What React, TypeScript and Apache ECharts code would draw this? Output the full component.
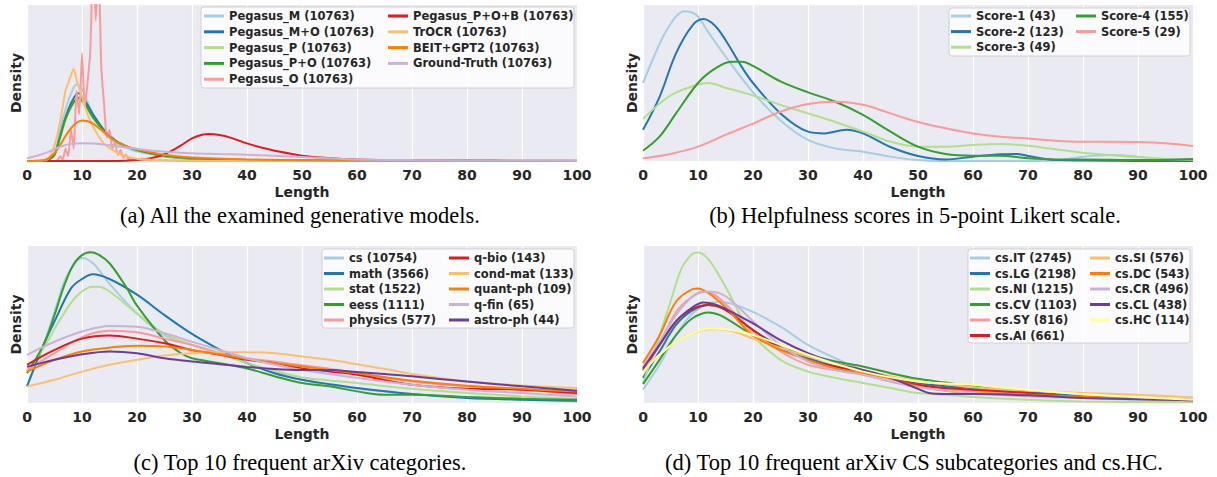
import React, { useEffect, useRef } from "react";
import * as echarts from "echarts";

type Pt = [number, number];

const palette = ["#a6cee3", "#1f78b4", "#b2df8a", "#33a02c", "#fb9a99", "#e31a1c", "#fdbf6f", "#ff7f00", "#cab2d6", "#6a3d9a", "#ffff99"];

// ---------- Panel (a) ----------
const namesA = ["Pegasus_M (10763)", "Pegasus_M+O (10763)", "Pegasus_P (10763)", "Pegasus_P+O (10763)", "Pegasus_O (10763)", "Pegasus_P+O+B (10763)", "TrOCR (10763)", "BEIT+GPT2 (10763)", "Ground-Truth (10763)"];
const pegasusM: Pt[] = [[0,0],[3,0.2],[4,1],[5,4],[6,20],[7,33],[8,43],[9,49],[10,46],[11,38],[12,30],[14,18],[16,12],[18,8.5],[20,6],[25,3],[30,1.5],[40,0.5],[50,0.2],[60,0],[100,0]];
const pegasusMO: Pt[] = [[0,0],[3,0.2],[4,1],[5,4],[6,16],[7,28],[8,37],[9,43],[9.5,43.5],[10,41],[11,36],[12,30],[14,20],[16,13.5],[18,9.5],[20,7],[25,3],[30,1.5],[40,0.5],[50,0.2],[100,0]];
const pegasusP: Pt[] = [[0,0],[3,0.2],[4,1],[5,4],[6,15],[7,26],[8,34],[9,39],[9.5,39.5],[10,38],[11,33],[12,27.5],[14,19],[16,13],[18,9.5],[20,7],[25,3.2],[30,1.8],[40,0.7],[50,0.3],[100,0]];
const pegasusPO: Pt[] = [[0,0],[3,0.2],[4,1],[5,4],[6,15],[7,27],[8,35],[9,40],[9.5,40.5],[10,39],[11,34],[12,28],[14,19.5],[16,13],[18,9.5],[20,7],[25,3.3],[30,1.8],[40,0.7],[50,0.3],[100,0]];
const pegasusO: Pt[] = [[0,0],[5,0],[5.5,0.5],[6,3],[6.5,1],[7,8],[7.5,3],[8,20],[8.5,8],[9,45],[9.5,30],[10,69],[10.5,35],[11,50],[11.5,70],[12,130],[12.5,90],[13,130],[13.5,60],[14,37],[14.5,15],[15,20],[15.5,8],[16,12],[16.5,4],[17,7],[17.5,2],[18,4],[18.5,1],[19,2],[20,1],[21,1.5],[22,0.5],[25,0.3],[30,0],[100,0]];
const pegasusPOB: Pt[] = [[0,0],[15,0],[18,0.2],[20,0.6],[22,1.5],[24,3],[26,6],[28,10],[30,14.5],[32,17],[33,17.3],[35,16.7],[37,15],[40,11.3],[43,8.3],[45,6.6],[50,3.4],[55,1.8],[60,1],[70,0.5],[80,0.3],[90,0.2],[100,0.1]];
const trocr: Pt[] = [[0,0],[3,0.3],[4,2],[5,10],[6,25],[7,45],[7.5,50],[8,55],[8.5,59],[9,52],[10,41],[11,30],[12,22],[13,16],[14,11],[16,6],[18,3],[20,1.5],[25,0.5],[30,0.2],[40,0],[100,0]];
const beitGpt2: Pt[] = [[0,0],[3,0.5],[4,2],[5,5],[6,10],[7,16],[8,21],[9,24.5],[10,26],[11,25.5],[12,24],[14,18.5],[16,13],[18,9.5],[20,7.5],[25,4],[30,2.3],[40,1],[50,0.5],[60,0.2],[100,0]];
const groundTruth: Pt[] = [[0,1.7],[2,3.5],[4,6],[6,9],[8,11],[10,11.3],[12,11.2],[14,10.5],[16,9.6],[20,7.8],[25,6],[30,5],[35,4.5],[40,4],[45,3.3],[50,2.5],[55,1.7],[60,1],[70,0.6],[80,0.4],[90,0.3],[100,0.2]];
const dataA = [pegasusM, pegasusMO, pegasusP, pegasusPO, pegasusO, pegasusPOB, trocr, beitGpt2, groundTruth];

// ---------- Panel (b) ----------
const namesB = ["Score-1 (43)", "Score-2 (123)", "Score-3 (49)", "Score-4 (155)", "Score-5 (29)"];
const score1: Pt[] = [[0,50],[2,67],[4,82],[6,92.5],[7.5,96],[9,95],[10,92.5],[12,82],[15,67],[20,44],[25,26],[30,13.5],[35,8],[40,6],[45,2.8],[50,0.6],[55,0],[60,0],[70,0],[75,0.3],[80,2.8],[85,3.8],[90,2.8],[95,1],[100,0.3]];
const score2: Pt[] = [[0,20],[3,41],[6,69],[9,87],[11,91],[13,87],[15,77.6],[18,60],[20,50],[25,30.5],[30,18.8],[33,17.7],[37,20],[40,17.7],[45,9],[50,3.2],[55,1],[60,2.8],[65,4.3],[68,4.5],[70,3.2],[75,0.6],[80,0.3],[90,0],[100,0]];
const score3: Pt[] = [[0,27],[5,42],[10,49],[12,50],[15,47],[20,42],[25,36],[30,30.5],[35,25],[40,18.8],[45,12.4],[50,9.2],[55,9.2],[60,10.3],[65,10.9],[70,9.8],[75,7.5],[80,5.3],[85,3.8],[90,2.4],[95,1.3],[100,0.8]];
const score4: Pt[] = [[0,6.6],[3,15.6],[6,30.5],[10,50],[13,59],[16,63.7],[18,63.7],[20,61],[25,51],[30,44],[35,38],[40,29.5],[45,18.8],[50,9.2],[55,4.5],[60,3.4],[65,3.4],[70,1.7],[75,1],[80,1],[90,0.6],[100,1.3]];
const score5: Pt[] = [[0,1.7],[5,4.5],[10,9.2],[15,16.7],[20,24],[25,31.6],[30,36.5],[35,38],[40,36],[45,30.5],[50,25],[55,21],[60,17.7],[65,15.6],[70,14.5],[75,13],[80,12.4],[85,12.4],[90,12.2],[95,11.3],[100,9.6]];
const dataB = [score1, score2, score3, score4, score5];

// ---------- Panel (c) ----------
const namesC = ["cs (10754)", "math (3566)", "stat (1522)", "eess (1111)", "physics (577)", "q-bio (143)", "cond-mat (133)", "quant-ph (109)", "q-fin (65)", "astro-ph (44)"];
const cs: Pt[] = [[0,10.6],[3,37],[5,58],[7,79],[9,90],[10,92.4],[12,89],[15,76],[20,57],[25,43],[30,37],[35,31.7],[40,25.4],[45,20],[50,14.8],[55,11.6],[60,9],[65,7.4],[70,5.7],[80,3.8],[90,2.5],[100,1]];
const math: Pt[] = [[0,10.6],[3,37],[5,52],[8,73],[10,79],[12,82],[15,79],[20,69],[25,56],[30,44],[35,34],[40,25.4],[45,19],[50,14.8],[55,12],[60,9.5],[70,5.7],[80,3.2],[90,2.1],[100,1.5]];
const stat: Pt[] = [[0,20],[3,35],[6,53],[9,68],[12,74],[13,74],[15,71],[20,57],[25,44],[30,37],[35,31.7],[40,25.4],[45,20.5],[50,16.3],[55,14.4],[60,12.7],[70,9],[80,6.3],[90,4.2],[100,2.5]];
const eess: Pt[] = [[0,19],[3,37],[5,56],[7,77],[9,91],[11.5,96],[13,94.5],[15,89],[18,74],[20,62],[25,40],[28,31.7],[30,28.5],[35,25.4],[40,22],[45,17],[50,12.7],[55,10.6],[60,7.4],[65,5.3],[70,5.3],[80,3.8],[90,2.7],[100,2.1]];
const physics: Pt[] = [[0,21],[5,31.7],[10,42],[15,46],[20,45],[25,41],[30,37],[35,31.7],[40,28.5],[45,26.4],[50,24],[55,21.8],[60,19],[70,13.7],[80,10.6],[90,8.5],[100,5.7]];
const qbio: Pt[] = [[0,24.3],[5,33.8],[10,41],[15,43],[20,41],[25,38],[30,33.8],[35,30.7],[40,27.5],[45,25.4],[50,22],[55,20],[60,18],[70,11.6],[80,9],[90,8.5],[100,6.3]];
const condmat: Pt[] = [[0,10.6],[5,14.8],[10,20],[15,24.3],[20,27.5],[25,30.2],[30,31.7],[35,32.3],[40,32.3],[45,31.7],[50,29.6],[55,27.5],[60,24.7],[65,21.8],[70,18.4],[80,13.7],[90,11.2],[100,9.5]];
const quantph: Pt[] = [[0,20],[5,27.5],[10,32.8],[15,35.3],[20,36.4],[25,36],[30,33.8],[35,31],[40,28],[45,25.4],[50,23.3],[55,21],[60,19],[70,14.2],[80,11],[90,9],[100,7.4]];
const qfin: Pt[] = [[0,30.7],[5,39],[10,45.5],[15,49],[20,48.6],[25,44.4],[30,39],[35,33.8],[40,28.5],[45,24.3],[50,21],[60,16],[70,11.6],[80,8.5],[90,6.3],[100,4.2]];
const astroph: Pt[] = [[0,23],[5,27.5],[10,31],[15,32.8],[20,31.7],[25,28.5],[30,26.4],[35,24.7],[40,23],[45,21.6],[50,21],[55,21],[60,19.7],[65,18.4],[70,17],[80,13.7],[90,10.6],[100,7.8]];
const dataC = [cs, math, stat, eess, physics, qbio, condmat, quantph, qfin, astroph];

// ---------- Panel (d) ----------
const namesD = ["cs.IT (2745)", "cs.LG (2198)", "cs.NI (1215)", "cs.CV (1103)", "cs.SY (816)", "cs.AI (661)", "cs.SI (576)", "cs.DC (543)", "cs.CR (496)", "cs.CL (438)", "cs.HC (114)"];
const csIT: Pt[] = [[0,8.5],[3,24.3],[6,43.3],[9,57],[12,63.4],[14,64.5],[16,63.4],[20,58],[25,48.6],[30,37],[35,28.5],[40,21],[45,17],[50,12.7],[55,10.6],[60,8.5],[70,5.3],[80,3.2],[90,2],[100,1]];
const csLG: Pt[] = [[0,16],[3,32.8],[6,49.7],[9,59],[12,62.4],[14,61.3],[16,57],[20,46.5],[25,36],[30,28.5],[35,23.3],[40,20],[45,16],[50,12.7],[55,10.6],[60,9.5],[70,7],[80,4.2],[90,2.7],[100,1.7]];
const csNI: Pt[] = [[0,12.7],[3,43],[5,64.5],[7,85.6],[9,95],[10,95.8],[12,91],[15,74],[18,54],[20,43],[25,27.5],[30,20],[35,16],[40,12.7],[45,9.5],[50,6.3],[55,5.3],[60,3.8],[70,2.1],[80,1],[100,0.4]];
const csCV: Pt[] = [[0,12],[3,27.5],[6,43.3],[9,54],[12,57.7],[14,56],[16,52],[20,43.3],[25,36],[30,30.7],[35,26.4],[40,23.3],[45,19],[50,15.4],[55,13],[60,10.6],[70,6.3],[80,3.8],[90,3.2],[100,2.1]];
const csSY: Pt[] = [[0,20],[3,37],[6,58],[9,68],[11,71],[13,69],[15,63],[20,45.5],[25,32.8],[30,24.3],[35,21],[40,18],[45,13.7],[50,10.6],[60,7.4],[70,5.3],[80,3.8],[100,2.1]];
const csAI: Pt[] = [[0,21],[3,37],[6,52],[9,60],[12,62.4],[14,61],[16,57],[20,46.5],[25,35],[30,27.5],[35,23.3],[40,20],[45,16],[50,11.6],[55,9.5],[60,8.5],[70,6.3],[80,3.6],[90,2.7],[100,1.7]];
const csSI: Pt[] = [[0,23],[3,30.7],[6,39],[9,44.4],[12,47],[14,47],[17,45],[20,41],[25,35],[30,29.6],[35,25.4],[40,21],[45,17],[50,13.7],[55,12],[60,10],[70,7.8],[80,6.3],[90,5.3],[100,3.6]];
const csDC: Pt[] = [[0,25.4],[3,43],[6,64.5],[9,72.5],[10,73],[12,69.8],[15,61],[18,49.7],[20,43],[25,33.8],[30,27.5],[35,22],[40,19],[45,15.4],[50,10.6],[55,7.8],[60,6.3],[70,5.3],[80,3.8],[90,2.7],[100,1.7]];
const csCR: Pt[] = [[0,23],[3,39],[6,56],[9,67.7],[12,71],[14,69.8],[16,65.5],[20,52],[25,37],[30,26.4],[35,21],[40,18],[45,13.7],[50,10],[60,6.3],[70,4.2],[80,3.2],[100,1.7]];
const csCL: Pt[] = [[0,22],[3,37],[6,52],[9,61],[11,64],[13,63],[15,60],[20,50.7],[25,40],[30,31.7],[35,25.4],[40,21],[45,16],[50,9],[52,6.3],[55,5.7],[60,5.7],[70,4.9],[80,3.2],[100,1.7]];
const csHC: Pt[] = [[0,20],[3,30.7],[6,39],[9,44.4],[12,47.5],[15,47],[20,43.3],[30,30.7],[40,20],[50,13.7],[60,11.6],[65,10],[70,8.5],[80,5.7],[90,3.6],[100,2.1]];
const dataD = [csIT, csLG, csNI, csCV, csSY, csAI, csSI, csDC, csCR, csCL, csHC];

const captions = [
  "(a) All the examined generative models.",
  "(b) Helpfulness scores in 5-point Likert scale.",
  "(c) Top 10 frequent arXiv categories.",
  "(d) Top 10 frequent arXiv CS subcategories and cs.HC.",
];

const TXT = "#262626";
const FONT = "DejaVu Sans";

const grids = [
  { left: 27, top: 5, width: 550, height: 156 },
  { left: 643, top: 5, width: 550, height: 156 },
  { left: 27, top: 246, width: 550, height: 157 },
  { left: 643, top: 246, width: 550, height: 157 },
];

export default function App() {
  const ref = useRef<HTMLDivElement>(null);
  useEffect(() => {
    if (!ref.current) return;
    const chart = echarts.init(ref.current, null, { renderer: "svg" });
    const panels = [
      { names: namesA, data: dataA },
      { names: namesB, data: dataB },
      { names: namesC, data: dataC },
      { names: namesD, data: dataD },
    ];
    const series: any[] = [];
    panels.forEach((p, pi) => {
      p.names.forEach((n, i) => {
        const c = palette[i];
        series.push({
          type: "line",
          name: n,
          data: p.data[i],
          xAxisIndex: pi,
          yAxisIndex: pi,
          symbol: "none",
          showSymbol: false,
          smooth: pi === 0 && i === 4 ? 0.15 : 0.35,
          lineStyle: { width: 2, color: c },
          itemStyle: { color: c },
          color: c,
          emphasis: { disabled: true },
          silent: true,
        });
      });
    });
    const xAxes = grids.map((_, gi) => ({
      type: "value",
      gridIndex: gi,
      min: 0,
      max: 100,
      interval: 10,
      name: "Length",
      nameLocation: "middle",
      nameGap: 24,
      nameTextStyle: { fontFamily: FONT, fontWeight: "bold", fontSize: 14, color: TXT },
      axisLine: { show: false },
      axisTick: { show: false },
      axisLabel: { fontFamily: FONT, fontWeight: "bold", fontSize: 14, color: TXT, margin: 7 },
      splitLine: { show: true, lineStyle: { color: "#ffffff", width: 1.2 } },
    }));
    const yAxes = grids.map((_, gi) => ({
      type: "value",
      gridIndex: gi,
      min: 0,
      max: 100,
      name: "Density",
      nameLocation: "middle",
      nameGap: 4,
      nameTextStyle: { fontFamily: FONT, fontWeight: "bold", fontSize: 14, color: TXT },
      axisLine: { show: false },
      axisTick: { show: false },
      axisLabel: { show: false },
      splitLine: { show: false },
    }));
    const legendSpec = [
      { left: 204, top: 9, gap: 1.8, data: namesA.slice(0, 5) },
      { left: 388, top: 9, gap: 1.8, data: namesA.slice(5) },
      { left: 951, top: 9, gap: 1.6, data: namesB.slice(0, 3) },
      { left: 1076, top: 9, gap: 1.6, data: namesB.slice(3) },
      { left: 324, top: 251, gap: 1.5, data: namesC.slice(0, 5) },
      { left: 449, top: 251, gap: 1.5, data: namesC.slice(5) },
      { left: 970, top: 251, gap: 1.5, data: namesD.slice(0, 6) },
      { left: 1090, top: 251, gap: 1.5, data: namesD.slice(6) },
    ];
    const legends = legendSpec.map((l) => ({
      orient: "vertical",
      left: l.left,
      top: l.top,
      padding: 0,
      itemGap: l.gap,
      itemWidth: 20,
      itemHeight: 3,
      icon: "rect",
      selectedMode: false,
      z: 10,
      itemStyle: { borderWidth: 0 },
      textStyle: { fontFamily: FONT, fontWeight: "bold", fontSize: 11.5, color: TXT, lineHeight: 14 },
      data: l.data,
    }));
    const boxes = [
      { x: 201, y: 7, w: 373, h: 81 },
      { x: 949, y: 8, w: 241, h: 48 },
      { x: 322, y: 249, w: 252, h: 79 },
      { x: 968, y: 249, w: 222, h: 94 },
    ];
    const capPos = [
      { x: 300, y: 215 },
      { x: 915, y: 215 },
      { x: 300, y: 462 },
      { x: 914, y: 462 },
    ];
    const graphic: any[] = [
      ...boxes.map((b) => ({
        type: "rect",
        z: 5,
        silent: true,
        shape: { x: b.x, y: b.y, width: b.w, height: b.h, r: 3 },
        style: { fill: "rgba(255,255,255,0.8)", stroke: "rgba(200,200,200,0.8)", lineWidth: 1 },
      })),
      ...captions.map((t, i) => ({
        type: "text",
        x: capPos[i].x,
        y: capPos[i].y,
        silent: true,
        style: {
          text: t,
          fontFamily: "Liberation Serif",
          fontSize: 22.5,
          fill: "#000000",
          textAlign: "center",
          textVerticalAlign: "middle",
        },
      })),
    ];
    chart.setOption({
      animation: false,
      backgroundColor: "#ffffff",
      grid: grids.map((g) => ({ ...g, show: true, backgroundColor: "#EAEAF2", borderWidth: 0, containLabel: false })),
      xAxis: xAxes,
      yAxis: yAxes,
      legend: legends,
      series,
      graphic,
    });
    return () => chart.dispose();
  }, []);
  return <div ref={ref} style={{ position: "absolute", left: 0, top: 0, width: 1217, height: 477 }} />;
}
